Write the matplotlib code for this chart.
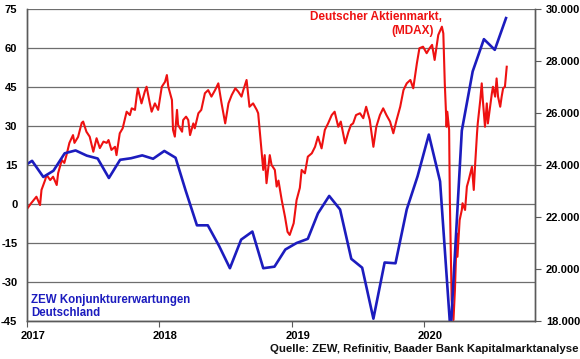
import pandas as pd
import matplotlib
matplotlib.use('Agg')
import matplotlib.pyplot as plt
import matplotlib.dates as mdates
from matplotlib.transforms import ScaledTranslation

plt.rcParams['font.family'] = ['Liberation Sans', 'DejaVu Sans']
plt.rcParams['font.weight'] = 'bold'
plt.rcParams['axes.unicode_minus'] = False

# ZEW Konjunkturerwartungen Deutschland, monatlich Dez 2016 - Aug 2020
zew_start = '2016-12-01'
zew = [13.8,
       16.6, 10.4, 12.8, 19.5, 20.6, 18.6, 17.5, 10.0, 17.0, 17.6, 18.7, 17.4,
       20.4, 17.8, 5.1, -8.2, -8.2, -16.1, -24.7, -13.7, -10.6, -24.7, -24.1, -17.5,
       -15.0, -13.4, -3.6, 3.1, -2.1, -21.1, -24.5, -44.1, -22.5, -22.8, -2.1, 10.7,
       26.7, 8.7, -49.5, 28.2, 51.0, 63.4, 59.3, 71.5]

# MDAX
mdax_datum = [
    '2017-01-02', '2017-01-13', '2017-01-27', '2017-02-06', '2017-02-10', '2017-02-20',
    '2017-02-24', '2017-03-06', '2017-03-14', '2017-03-24', '2017-03-28', '2017-04-07',
    '2017-04-14', '2017-04-20', '2017-04-28', '2017-05-08', '2017-05-12', '2017-05-22',
    '2017-06-01', '2017-06-05', '2017-06-14', '2017-06-23', '2017-07-03', '2017-07-12',
    '2017-07-21', '2017-07-31', '2017-08-09', '2017-08-14', '2017-08-22', '2017-09-01',
    '2017-09-05', '2017-09-14', '2017-09-22', '2017-10-03', '2017-10-12', '2017-10-17',
    '2017-10-26', '2017-10-31', '2017-11-03', '2017-11-13', '2017-11-22', '2017-11-27',
    '2017-12-06', '2017-12-11', '2017-12-20', '2017-12-29', '2018-01-08', '2018-01-17',
    '2018-01-22', '2018-01-26', '2018-02-05', '2018-02-08', '2018-02-13', '2018-02-19',
    '2018-02-22', '2018-03-05', '2018-03-08', '2018-03-16', '2018-03-22', '2018-03-27',
    '2018-04-05', '2018-04-09', '2018-04-19', '2018-04-27', '2018-05-07', '2018-05-16',
    '2018-05-25', '2018-06-04', '2018-06-13', '2018-06-22', '2018-07-02', '2018-07-11',
    '2018-07-20', '2018-07-30', '2018-08-07', '2018-08-16', '2018-08-21', '2018-08-30',
    '2018-09-07', '2018-09-17', '2018-09-27', '2018-10-01', '2018-10-11', '2018-10-15',
    '2018-10-19', '2018-10-24', '2018-11-02', '2018-11-07', '2018-11-16', '2018-11-21',
    '2018-11-26', '2018-12-05', '2018-12-14', '2018-12-21', '2018-12-27', '2019-01-07',
    '2019-01-15', '2019-01-24', '2019-01-29', '2019-02-07', '2019-02-15', '2019-02-26',
    '2019-03-07', '2019-03-15', '2019-03-25', '2019-04-03', '2019-04-12', '2019-04-22',
    '2019-04-30', '2019-05-10', '2019-05-17', '2019-05-29', '2019-06-07', '2019-06-14',
    '2019-06-20', '2019-06-28', '2019-07-09', '2019-07-18', '2019-07-26', '2019-08-05',
    '2019-08-15', '2019-08-23', '2019-09-02', '2019-09-11', '2019-09-20', '2019-09-30',
    '2019-10-09', '2019-10-18', '2019-10-28', '2019-11-06', '2019-11-15', '2019-11-25',
    '2019-12-03', '2019-12-13', '2019-12-20', '2019-12-30', '2020-01-09', '2020-01-17',
    '2020-01-24', '2020-01-31', '2020-02-10', '2020-02-20', '2020-02-24', '2020-02-28',
    '2020-03-04', '2020-03-06', '2020-03-11', '2020-03-13', '2020-03-18', '2020-03-23',
    '2020-03-27', '2020-04-01', '2020-04-03', '2020-04-09', '2020-04-15', '2020-04-17',
    '2020-04-24', '2020-04-29', '2020-05-04', '2020-05-13', '2020-05-18', '2020-05-22',
    '2020-05-27', '2020-05-29', '2020-06-05', '2020-06-09', '2020-06-12', '2020-06-18',
    '2020-06-23', '2020-06-26', '2020-07-07', '2020-07-10', '2020-07-16', '2020-07-20',
    '2020-07-24', '2020-07-30', '2020-08-03', '2020-08-07', '2020-08-12', '2020-08-17']
mdax_wert = [
    22330, 22540, 22780, 22460, 23040, 23420,
    23620, 23420, 23550, 23230, 23690, 24190,
    24080, 24380, 24850, 25150, 24850, 25080,
    25620, 25670, 25280, 25090, 24510, 25030,
    24650, 24900, 24850, 24960, 24580, 24700,
    24380, 25220, 25410, 26050, 25920, 26180,
    26120, 26690, 26950, 26370, 26820, 27010,
    26370, 26050, 26370, 26120, 27010, 27200,
    27460, 27010, 26500, 25350, 25090, 26120,
    25540, 25280, 25730, 25860, 25730, 25150,
    25600, 25410, 25990, 26120, 26760, 26880,
    26630, 26880, 27140, 26370, 25600, 26370,
    26690, 26950, 26820, 26630, 26880, 27270,
    26240, 26370, 26120, 25990, 24450, 23810,
    24380, 23300, 24380, 24000, 23810, 23170,
    23400, 22650, 22010, 21430, 21310, 21760,
    22650, 23120, 23810, 23680, 24320, 24450,
    24700, 25090, 24640, 25350, 25600, 25920,
    26050, 25470, 25670, 24830, 25270, 25540,
    25600, 25920, 25990, 25800, 26240, 25730,
    24700, 25470, 25920, 26180, 25920, 25670,
    25220, 25730, 26240, 26880, 27140, 27270,
    26950, 27910, 28490, 28550, 28300, 28490,
    28620, 28040, 29000, 29320, 29060, 27140,
    25470, 26050, 25350, 22650, 18810, 18040,
    19190, 21370, 20470, 21880, 22270, 22530,
    22270, 23170, 23420, 23930, 23040, 24070,
    25220, 25600, 26500, 27140, 26500, 25470,
    26370, 25600, 26760, 27010, 26630, 27330,
    26630, 26240, 26630, 26950, 27010, 27780]

links_ticks = list(range(-45, 76, 15))
rechts_ticks = list(range(18000, 30001, 2000))

rot = '#ee1111'
blau = '#1c1cbe'
linie = '#5a5a5a'

zew_datum = pd.date_range(zew_start, periods=len(zew), freq='MS') + pd.Timedelta(days=14)
mdax_t = pd.to_datetime(mdax_datum)

fig = plt.figure(figsize=(5.8, 3.59), dpi=100)
ax = fig.add_axes([27 / 580, 1 - 321 / 359, 508 / 580, 312 / 359])
ax2 = ax.twinx()

# Gitter auf der linken Achse (hinten)
ax.set_ylim(-45, 75)
ax.set_yticks(links_ticks)
ax.grid(axis='y', color='#6e6e6e', lw=0.9)
ax.set_axisbelow(True)
ax.tick_params(axis='y', length=0, pad=7, labelsize=8)

ax.set_xlim(pd.Timestamp('2017-01-01'), pd.Timestamp('2020-11-03'))
ax.xaxis.set_major_locator(mdates.YearLocator())
ax.xaxis.set_major_formatter(mdates.DateFormatter('%Y'))
ax.tick_params(axis='x', length=4, color=linie, pad=3, labelsize=8)
for lab in ax.get_xticklabels():
    lab.set_transform(lab.get_transform() + ScaledTranslation(0.06, 0, fig.dpi_scale_trans))

# MDAX rechts, ZEW darüber mit Transformation der linken Achse
ax2.plot(mdax_t, mdax_wert, color=rot, lw=1.5)
ax2.plot(zew_datum, zew, color=blau, lw=1.9, transform=ax.transData)
ax2.set_ylim(18000, 30000)
ax2.set_yticks(rechts_ticks)
ax2.set_yticklabels([f'{v:,.0f}'.replace(',', '.') for v in rechts_ticks])
ax2.tick_params(axis='y', length=4, color=linie, pad=4, labelsize=8)
ax.set_xlim(pd.Timestamp('2017-01-01'), pd.Timestamp('2020-11-03'))

for a in (ax, ax2):
    a.spines['top'].set_visible(False)
    for s in ('left', 'right', 'bottom'):
        a.spines[s].set_color(linie)
        a.spines[s].set_linewidth(1.0)

ax.text(0.817, 0.974, 'Deutscher Aktienmarkt,', transform=ax.transAxes, ha='right', va='center',
        color=rot, fontsize=8.5)
ax.text(0.800, 0.929, '(MDAX)', transform=ax.transAxes, ha='right', va='center',
        color=rot, fontsize=8.5)
ax.text(0.008, 0.067, 'ZEW Konjunkturerwartungen', transform=ax.transAxes, ha='left', va='center',
        color=blau, fontsize=8.3)
ax.text(0.008, 0.026, 'Deutschland', transform=ax.transAxes, ha='left', va='center',
        color=blau, fontsize=8.3)

fig.text(0.997, 0.028, 'Quelle: ZEW, Refinitiv, Baader Bank Kapitalmarktanalyse', ha='right', va='center',
         fontsize=8.2, color='#111111')

fig.savefig('out.png', dpi=100)
